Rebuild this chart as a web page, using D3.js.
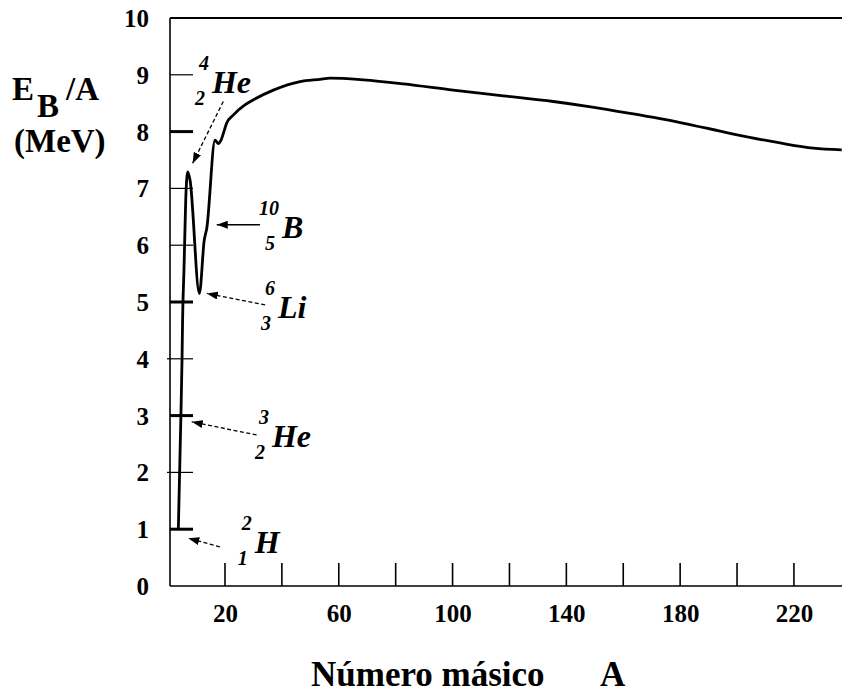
<!DOCTYPE html>
<html>
<head>
<meta charset="utf-8">
<script src="https://cdn.jsdelivr.net/npm/d3@7"></script>
<style>
  body { margin: 0; background: #fff; }
  svg { display: block; }
  text { font-family: "Liberation Serif", "Times New Roman", serif; font-weight: bold; fill: #000; }
  .iso { font-style: italic; }
</style>
</head>
<body>
<div id="chart"></div>
<script>
// binding energy per nucleon curve
const massNumber = [3.6, 4.5, 4.9, 5.1, 5.6, 6.2, 6.9, 7.7, 11.0, 12.7, 13.6, 16.5, 17.6, 18.6,
  19.8, 20.6, 22.9, 27, 30, 37, 46.4, 53.4, 56.9, 68.6, 82.7, 100.2, 117.8, 135.4, 148.0,
  162.4, 180, 197.5, 215.1, 226.8, 236.8];
const bindingEnergy = [1.0, 3.0, 4.0, 4.7, 5.6, 6.8, 7.29, 7.15, 5.15, 6.09, 6.30, 7.85, 7.79, 7.85,
  8.03, 8.15, 8.29, 8.47, 8.56, 8.73, 8.88, 8.92, 8.94, 8.91, 8.84, 8.73, 8.63, 8.53, 8.44,
  8.32, 8.16, 7.97, 7.80, 7.71, 7.68];

const xTicks = [20, 40, 60, 80, 100, 120, 140, 160, 180, 200, 220];
const xTickLabels = [20, 60, 100, 140, 180, 220];
const yTicks = [1, 2, 3, 4, 5, 6, 7, 8, 9];
const yTickLabels = [0, 1, 2, 3, 4, 5, 6, 7, 8, 9, 10];
const boldYTicks = [1, 3, 5, 8];

// isotope annotations (data units)
const isoSymbol = ["H", "He", "He", "Li", "B"];
const isoMass = ["2", "3", "4", "6", "10"];
const isoZ = ["1", "2", "2", "3", "5"];
const isoHeadA = [7.1, 8.3, 8.6, 13.6, 17.1];
const isoHeadE = [0.84, 2.89, 7.44, 5.15, 6.36];
const isoTailA = [18.2, 31.1, 19.4, 34.1, 32.3];
const isoTailE = [0.69, 2.66, 8.53, 4.95, 6.36];
const isoTextA = [30.5, 36.5, 15.4, 38.6, 40.0];
const isoTextE = [0.58, 2.45, 8.68, 4.72, 6.13];
const isoDashed = [true, true, true, true, false];

const svgWidth = 842;
const svgHeight = 695;
const axisX = 170;

const svg = d3.select("#chart")
    .append("svg")
    .attr("width", svgWidth)
    .attr("height", svgHeight);

const x = d3.scaleLinear().domain([0, 236.9]).range([168.1, 842]);
const y = d3.scaleLinear().domain([0, 10]).range([586, 18]);

svg.append("defs").append("marker")
    .attr("id", "head")
    .attr("markerUnits", "userSpaceOnUse")
    .attr("markerWidth", 11)
    .attr("markerHeight", 8)
    .attr("refX", 11)
    .attr("refY", 4)
    .attr("orient", "auto")
    .append("path")
    .attr("d", "M0,0 L11,4 L0,8 Z")
    .attr("fill", "#000");

// frame
svg.append("line")
    .attr("x1", axisX).attr("x2", svgWidth)
    .attr("y1", y(10)).attr("y2", y(10))
    .attr("stroke", "#000").attr("stroke-width", 2.2);
svg.append("line")
    .attr("x1", axisX).attr("x2", svgWidth)
    .attr("y1", y(0)).attr("y2", y(0))
    .attr("stroke", "#000").attr("stroke-width", 1.6);
svg.append("line")
    .attr("x1", axisX).attr("x2", axisX)
    .attr("y1", y(10)).attr("y2", y(0))
    .attr("stroke", "#000").attr("stroke-width", 1.6);

// y ticks (inward)
svg.selectAll(".ytick")
    .data(yTicks)
    .enter()
    .append("line")
    .attr("class", "ytick")
    .attr("x1", d => (d === 2 || d === 4) ? axisX - 3 : axisX)
    .attr("x2", axisX + 23)
    .attr("y1", d => y(d))
    .attr("y2", d => y(d))
    .attr("stroke", "#000")
    .attr("stroke-width", d => boldYTicks.includes(d) ? 3 : 1.2);

// x ticks (upward)
svg.selectAll(".xtick")
    .data(xTicks)
    .enter()
    .append("line")
    .attr("class", "xtick")
    .attr("x1", d => x(d)).attr("x2", d => x(d))
    .attr("y1", y(0)).attr("y2", y(0) - 23)
    .attr("stroke", "#000")
    .attr("stroke-width", 1.6);

// tick labels
const bottomAxis = d3.axisBottom(x).tickValues(xTickLabels).tickSize(0);
const xAxis = svg.append("g")
    .attr("transform", `translate(0, ${y(0)})`)
    .call(bottomAxis);
xAxis.select(".domain").remove();
xAxis.selectAll("text")
    .attr("y", 36)
    .attr("dy", 0)
    .style("font-family", "Liberation Serif, serif")
    .style("font-weight", "bold")
    .style("font-size", "25px");

const leftAxis = d3.axisLeft(y).tickValues(yTickLabels).tickSize(0).tickPadding(21);
const yAxis = svg.append("g")
    .attr("transform", `translate(${axisX}, 0)`)
    .call(leftAxis);
yAxis.select(".domain").remove();
yAxis.selectAll("text")
    .attr("dy", "0.34em")
    .style("font-family", "Liberation Serif, serif")
    .style("font-weight", "bold")
    .style("font-size", "25px");

// curve
const points = massNumber.map((a, i) => [a, bindingEnergy[i]]);
const line = d3.line()
    .x(d => x(d[0]))
    .y(d => y(d[1]))
    .curve(d3.curveMonotoneX);

svg.append("path")
    .datum(points)
    .attr("d", line)
    .attr("fill", "none")
    .attr("stroke", "#000")
    .attr("stroke-width", 2.8)
    .attr("stroke-linejoin", "round");

// annotations
isoSymbol.forEach((sym, i) => {
    svg.append("line")
        .attr("x1", x(isoTailA[i])).attr("y1", y(isoTailE[i]))
        .attr("x2", x(isoHeadA[i])).attr("y2", y(isoHeadE[i]))
        .attr("stroke", "#000")
        .attr("stroke-width", 1.3)
        .attr("stroke-dasharray", isoDashed[i] ? "4,2.5" : null)
        .attr("marker-end", "url(#head)");

    const tx = x(isoTextA[i]);
    const ty = y(isoTextE[i]);
    const supShift = isoMass[i].length > 1 ? 23 : 13;

    svg.append("text")
        .attr("class", "iso")
        .attr("x", tx).attr("y", ty)
        .style("font-size", "32px")
        .text(sym);
    svg.append("text")
        .attr("class", "iso")
        .attr("x", tx - supShift).attr("y", ty - 23)
        .style("font-size", "20px")
        .text(isoMass[i]);
    svg.append("text")
        .attr("class", "iso")
        .attr("x", tx - 17).attr("y", ty + 12)
        .style("font-size", "20px")
        .text(isoZ[i]);
});

// axis titles
svg.append("text")
    .attr("x", 12).attr("y", 100)
    .style("font-size", "33px")
    .text("E");
svg.append("text")
    .attr("x", 37).attr("y", 117)
    .style("font-size", "33px")
    .text("B");
svg.append("text")
    .attr("x", 66).attr("y", 100)
    .style("font-size", "33px")
    .text("/A");
svg.append("text")
    .attr("x", 14).attr("y", 152)
    .style("font-size", "33px")
    .text("(MeV)");

svg.append("text")
    .attr("x", 311).attr("y", 686)
    .style("font-size", "35px")
    .text("Número másico");
svg.append("text")
    .attr("x", 600).attr("y", 686)
    .style("font-size", "35px")
    .text("A");
</script>
</body>
</html>
